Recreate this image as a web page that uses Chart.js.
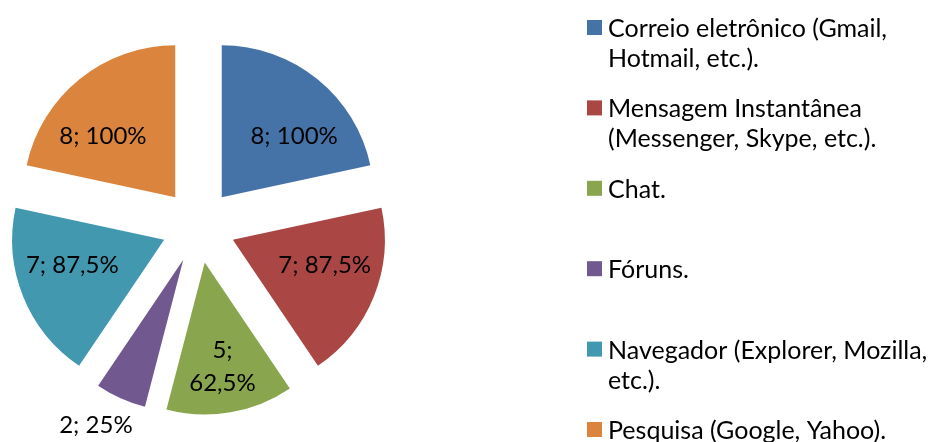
<!DOCTYPE html>
<html>
<head>
<meta charset="utf-8">
<script src="https://cdn.jsdelivr.net/npm/chart.js@4.4.1/dist/chart.umd.min.js"></script>
<style>
  html, body { margin: 0; padding: 0; background: #fff; }
  #wrap { position: relative; width: 931px; height: 442px; }
</style>
</head>
<body>
<div id="wrap"><canvas id="myPieChart" width="931" height="442"></canvas></div>
<script>
const categories = [
  ["Correio eletrônico (Gmail,", "Hotmail, etc.)."],
  ["Mensagem Instantânea", "(Messenger, Skype, etc.)."],
  ["Chat."],
  ["Fóruns."],
  ["Navegador (Explorer, Mozilla,", "etc.)."],
  ["Pesquisa (Google, Yahoo)."],
];
const counts = [8, 7, 5, 2, 7, 8];
const percents = ["100%", "87,5%", "62,5%", "25%", "87,5%", "100%"];
const colors = ["#4572A7", "#AA4643", "#89A54E", "#71588F", "#4198AF", "#DB843D"];

const FONT = "Lato, 'Noto Sans', sans-serif";
const EXPLODE = 148; // chart.js moves an arc by offset / 4
const RADIUS = 152;

// keep exploded slices at full radius / full angle (chart.js shrinks small arcs)
const fixExplode = {
  id: "fixExplode",
  afterDatasetUpdate(chart) {
    chart.getDatasetMeta(0).data.forEach(arc => {
      const d = EXPLODE / 4;
      const fix = 1 - Math.sin(Math.min(Math.PI, arc.circumference));
      const ro = d * fix;
      const grow = ro / (2 * Math.PI * RADIUS);
      arc.outerRadius = RADIUS - ro;
      arc.startAngle -= grow;
      arc.endAngle += grow;
    });
  }
};

const sliceLabels = {
  id: "sliceLabels",
  afterDatasetsDraw(chart) {
    const ctx = chart.ctx;
    const meta = chart.getDatasetMeta(0);
    ctx.save();
    ctx.font = "24px " + FONT;
    ctx.fillStyle = "#000";
    ctx.textAlign = "center";
    ctx.textBaseline = "alphabetic";
    meta.data.forEach((arc, i) => {
      let mid = arc.startAngle + (arc.endAngle - arc.startAngle) / 2;
      const small = arc.circumference < 0.5;
      const text = counts[i] + "; " + percents[i];
      let lines = [text];
      let f = small ? 1.227 : 0.625;
      if (!small && ctx.measureText(text).width > arc.circumference * RADIUS * f) {
        lines = [counts[i] + ";", percents[i]];
        f = 0.69;
      } else if (!small) {
        // lean wide labels a little towards the horizontal
        const target = Math.cos(mid) > 0 ? 0 : Math.PI;
        const diff = Math.atan2(Math.sin(mid - target), Math.cos(mid - target));
        const lean = Math.min(7.5 * Math.PI / 180, Math.abs(diff) * 0.22);
        mid -= Math.sign(diff) * lean;
      } else {
        mid += 3 * Math.PI / 180;
      }
      const dist = EXPLODE / 4 + RADIUS * f;
      const x = arc.x + Math.cos(mid) * dist;
      const y = arc.y + Math.sin(mid) * dist;
      const lh = 33;
      lines.forEach((ln, k) => {
        ctx.fillText(ln, x, y + 8.5 + (k - (lines.length - 1) / 2) * lh);
      });
    });
    ctx.restore();
  }
};

const sideLegend = {
  id: "sideLegend",
  afterDraw(chart) {
    const ctx = chart.ctx;
    ctx.save();
    ctx.font = "25px " + FONT;
    ctx.textBaseline = "alphabetic";
    categories.forEach((lines, i) => {
      const top = 20 + i * 80.4;
      ctx.fillStyle = colors[i];
      ctx.fillRect(587, top, 15, 15);
      ctx.fillStyle = "#000";
      lines.forEach((ln, k) => ctx.fillText(ln, 608, top + 17 + k * 30));
    });
    ctx.restore();
  }
};

new Chart(document.getElementById("myPieChart"), {
  type: "pie",
  data: {
    labels: categories.map(c => c.join(" ")),
    datasets: [{
      data: counts,
      backgroundColor: colors,
      borderWidth: 0,
      offset: EXPLODE,
      hoverOffset: 0,
    }],
  },
  plugins: [fixExplode, sliceLabels, sideLegend],
  options: {
    responsive: false,
    animation: false,
    radius: RADIUS,
    layout: { padding: { left: 0, right: 534, top: 10, bottom: 0 } },
    plugins: {
      legend: { display: false },
      tooltip: { enabled: false },
    },
  },
});
</script>
</body>
</html>
